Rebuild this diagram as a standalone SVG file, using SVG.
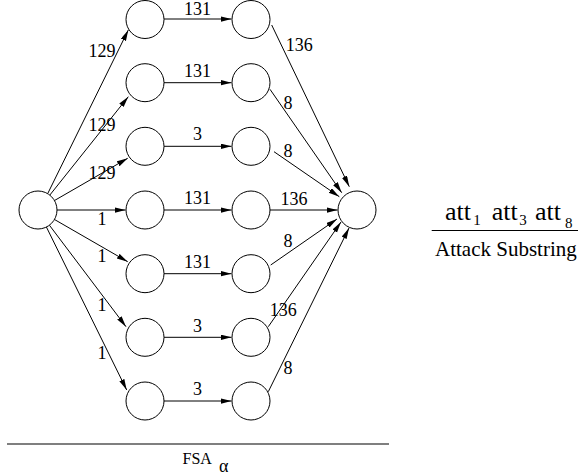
<svg xmlns="http://www.w3.org/2000/svg" width="579" height="475" viewBox="0 0 579 475">
  <style>
    .node { fill: #ffffff; stroke: #000000; stroke-width: 1; }
    .edge { fill: none; stroke: #000000; stroke-width: 1; marker-end: url(#arrow); }
    .rule { stroke: #000000; stroke-width: 1.2; }
    text { font-family: 'Liberation Serif', 'DejaVu Serif', 'Times New Roman', serif; fill: #000000; }
    .lbl { font-size: 18px; text-anchor: middle; }
  </style>
  <defs>
    <marker id="arrow" markerUnits="userSpaceOnUse" markerWidth="12" markerHeight="7" refX="11" refY="2.75" orient="auto">
      <path d="M0,0 L11,2.75 L0,5.5 z" fill="#000000"/>
    </marker>
  </defs>

  <!-- connectors -->
  <g id="connectors">
    <!-- start state to first column -->
    <line class="edge" x1="48" y1="193" x2="128.3" y2="30"/>
    <line class="edge" x1="49.8" y1="195.1" x2="128.3" y2="96.7"/>
    <line class="edge" x1="54.5" y1="200.5" x2="127.7" y2="158.3"/>
    <line class="edge" x1="57" y1="210" x2="125.5" y2="210"/>
    <line class="edge" x1="54.5" y1="219.5" x2="127.7" y2="261.7"/>
    <line class="edge" x1="49.4" y1="225.2" x2="126" y2="326.7"/>
    <line class="edge" x1="46.4" y1="227" x2="126.7" y2="390"/>
    <!-- first column to second column -->
    <line class="edge" x1="164" y1="19" x2="231.5" y2="19"/>
    <line class="edge" x1="164" y1="82.7" x2="231.5" y2="82.7"/>
    <line class="edge" x1="164" y1="146.3" x2="231.5" y2="146.3"/>
    <line class="edge" x1="164" y1="210" x2="231.5" y2="210"/>
    <line class="edge" x1="164" y1="273.7" x2="231.5" y2="273.7"/>
    <line class="edge" x1="164" y1="337.3" x2="231.5" y2="337.3"/>
    <line class="edge" x1="164" y1="401" x2="231.5" y2="401"/>
    <!-- second column to final state -->
    <line class="edge" x1="271.7" y1="25" x2="349.3" y2="186.7"/>
    <line class="edge" x1="270" y1="89.3" x2="341.7" y2="192.7"/>
    <line class="edge" x1="274" y1="151.7" x2="339.3" y2="196.7"/>
    <line class="edge" x1="270" y1="210" x2="337.5" y2="210"/>
    <line class="edge" x1="270.7" y1="265" x2="337" y2="219"/>
    <line class="edge" x1="268.3" y1="326.7" x2="341" y2="222"/>
    <line class="edge" x1="268.3" y1="391.7" x2="349" y2="228"/>

    <!-- edge labels -->
    <text class="lbl" x="102" y="57">129</text>
    <text class="lbl" x="102" y="130.5">129</text>
    <text class="lbl" x="102" y="179">129</text>
    <text class="lbl" x="102" y="225">1</text>
    <text class="lbl" x="102" y="262">1</text>
    <text class="lbl" x="102" y="311">1</text>
    <text class="lbl" x="102" y="359">1</text>

    <text class="lbl" x="197.5" y="14.5">131</text>
    <text class="lbl" x="197.5" y="76.5">131</text>
    <text class="lbl" x="197.5" y="140.2">3</text>
    <text class="lbl" x="197.5" y="204">131</text>
    <text class="lbl" x="197.5" y="267.5">131</text>
    <text class="lbl" x="197.5" y="331.5">3</text>
    <text class="lbl" x="197.5" y="395.3">3</text>

    <text class="lbl" x="299.3" y="51">136</text>
    <text class="lbl" x="288" y="109">8</text>
    <text class="lbl" x="288" y="157">8</text>
    <text class="lbl" x="294" y="205">136</text>
    <text class="lbl" x="288" y="246.7">8</text>
    <text class="lbl" x="283.3" y="316">136</text>
    <text class="lbl" x="288" y="374">8</text>
  </g>

  <!-- states -->
  <g id="start"><circle class="node" cx="38" cy="210" r="19"/></g>
  <g id="a1"><circle class="node" cx="145" cy="19.5" r="19"/></g>
  <g id="a2"><circle class="node" cx="145" cy="82.7" r="19"/></g>
  <g id="a3"><circle class="node" cx="145" cy="146.3" r="19"/></g>
  <g id="a4"><circle class="node" cx="145" cy="210" r="19"/></g>
  <g id="a5"><circle class="node" cx="145" cy="273.7" r="19"/></g>
  <g id="a6"><circle class="node" cx="145" cy="337.3" r="19"/></g>
  <g id="a7"><circle class="node" cx="145" cy="401" r="19"/></g>
  <g id="b1"><circle class="node" cx="251" cy="19.5" r="19"/></g>
  <g id="b2"><circle class="node" cx="251" cy="82.7" r="19"/></g>
  <g id="b3"><circle class="node" cx="251" cy="146.3" r="19"/></g>
  <g id="b4"><circle class="node" cx="251" cy="210" r="19"/></g>
  <g id="b5"><circle class="node" cx="251" cy="273.7" r="19"/></g>
  <g id="b6"><circle class="node" cx="251" cy="337.3" r="19"/></g>
  <g id="b7"><circle class="node" cx="251" cy="401" r="19"/></g>
  <g id="final"><circle class="node" cx="357" cy="210" r="19"/></g>

  <!-- automaton caption -->
  <g id="fsa-caption">
    <line class="rule" x1="7" y1="444" x2="389" y2="444"/>
    <text x="182.5" y="464" font-size="16">FSA</text>
    <text x="219" y="471.5" font-size="18">α</text>
  </g>

  <!-- attack substring legend -->
  <g id="substring">
    <text x="445" y="220" font-size="26">att</text>
    <text x="473.3" y="224.5" font-size="15">1</text>
    <text x="491.7" y="220" font-size="26">att</text>
    <text x="519.3" y="224.5" font-size="15">3</text>
    <text x="535" y="220" font-size="26">att</text>
    <text x="565" y="228" font-size="15">8</text>
    <line class="rule" x1="431.7" y1="230.5" x2="578" y2="230.5"/>
    <text x="435" y="256" font-size="21">Attack Substring</text>
  </g>
</svg>
